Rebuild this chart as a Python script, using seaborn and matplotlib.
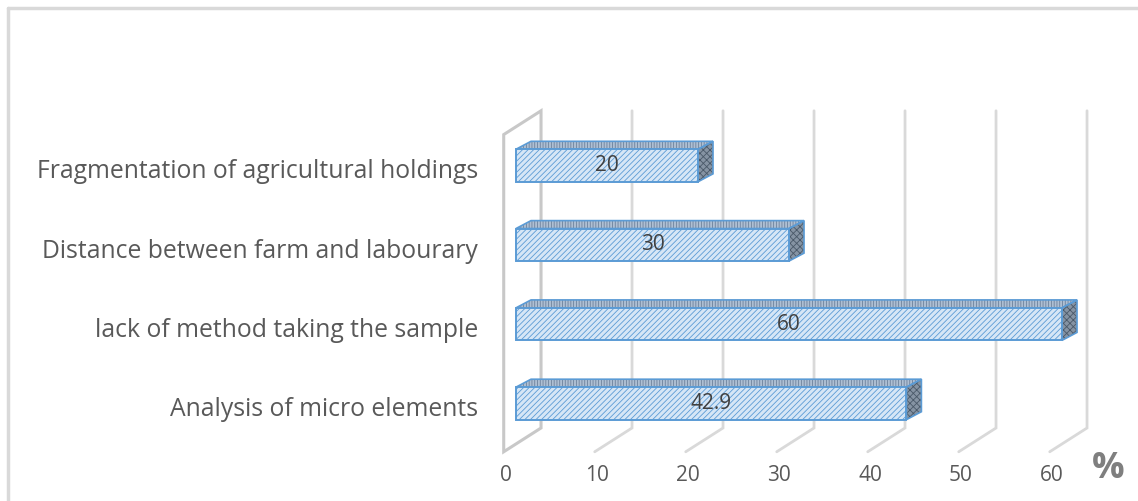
import numpy as np
import pandas as pd
import matplotlib
matplotlib.use("Agg")
import matplotlib.pyplot as plt
from matplotlib.patches import Polygon
from matplotlib.lines import Line2D
import seaborn as sns

# Data
categories = [
    "Fragmentation of agricultural holdings",
    "Distance between farm and labourary",
    "lack of method taking the sample",
    "Analysis of micro elements",
]
values = [20, 30, 60, 42.9]
value_labels = ["20", "30", "60", "42.9"]
x_ticks = [0, 10, 20, 30, 40, 50, 60]
unit_label = "%"

sns.set_theme(style="white")
plt.rcParams["font.family"] = ["Open Sans", "DejaVu Sans"]
plt.rcParams["hatch.linewidth"] = 0.6

W, H = 1138, 501
fig = plt.figure(figsize=(W / 100, H / 100), dpi=100)
ax = fig.add_axes([0, 0, 1, 1])

# Pseudo-3D geometry (in data units: x = value, y = category index)
BAR_H = 0.41              # height of bar front face
BAR_DEPTH = (1.65, -0.10)  # front face -> back face of a bar
BACK = (2.75, -0.20)       # bar front plane -> back wall plane
FRONT = (-1.35, 0.10)      # bar front plane -> front edge of the floor
GRID_TOP = -0.69
FLOOR_BACK = 3.31

FACE = "#d6e6f6"
EDGE = "#5b9bd5"
GRID = "#d9d9d9"

df = pd.DataFrame({"category": categories, "value": values})
sns.barplot(
    data=df, x="value", y="category", orient="h", order=categories,
    width=BAR_H, color=FACE, saturation=1, edgecolor=EDGE, linewidth=1.4,
    hatch="//////", ax=ax, zorder=3,
)

# Scales: value 0 of the bar front at 516 px, 9.1 px per unit; 79.3 px per category
ax.set_xlim(-516 / 9.1, (W - 516) / 9.1)
ax.set_ylim((H - 165.5) / 79.3, -165.5 / 79.3)
ax.axis("off")

fdx = FRONT[0] - BACK[0]
fdy = FRONT[1] - BACK[1]

# Side wall at value 0
wx = x_ticks[0] + BACK[0]
wall = Polygon(
    [(wx, GRID_TOP), (wx, FLOOR_BACK), (wx + fdx, FLOOR_BACK + fdy), (wx + fdx, GRID_TOP + fdy)],
    closed=True, facecolor="white", edgecolor="#c8c8c8", linewidth=2.2, zorder=1,
)
ax.add_patch(wall)

# Gridlines on the back wall, folding onto the floor
for t in x_ticks[1:]:
    xb = t + BACK[0]
    ax.plot([xb, xb, xb + fdx], [GRID_TOP, FLOOR_BACK, FLOOR_BACK + fdy],
            color=GRID, linewidth=2.0, zorder=1.5, solid_joinstyle="miter")

# Top and side faces of each bar
dx, dy = BAR_DEPTH
for i, v in enumerate(values):
    yt = i - BAR_H / 2
    yb = i + BAR_H / 2
    top = [(0, yt), (v, yt), (v + dx, yt + dy), (dx, yt + dy)]
    side = [(v, yt), (v + dx, yt + dy), (v + dx, yb + dy), (v, yb)]
    ax.add_patch(Polygon(top, closed=True, facecolor="#aebfd3", edgecolor="none", zorder=2))
    ax.add_patch(Polygon(top, closed=True, facecolor="none", edgecolor="#6d819b",
                         linewidth=0, hatch="||||||", zorder=2.1))
    ax.add_patch(Polygon(top, closed=True, facecolor="none", edgecolor=EDGE, linewidth=1.2, zorder=2.2))
    ax.add_patch(Polygon(side, closed=True, facecolor="#8593a3", edgecolor="none", zorder=2))
    ax.add_patch(Polygon(side, closed=True, facecolor="none", edgecolor="#4a5969",
                         linewidth=0, hatch="xxxxx", zorder=2.1))
    ax.add_patch(Polygon(side, closed=True, facecolor="none", edgecolor=EDGE, linewidth=1.2, zorder=2.2))
    ax.text(v / 2, i, value_labels[i], ha="center", va="center",
            fontsize=15, color="#404040", zorder=5)
    ax.text(-4.18, i + 0.08, categories[i], ha="right", va="center",
            fontsize=17.8, color="#595959")

# Value axis labels along the front edge of the floor
y_lab = (475 - 165.5) / 79.3
for t in x_ticks:
    ax.text(t + FRONT[0] + 0.25, y_lab, str(t), ha="center", va="center",
            fontsize=15, color="#595959")
ax.text(x_ticks[-1] + FRONT[0] + 6.4, y_lab - 0.08, unit_label, ha="center", va="center",
        fontsize=26, color="#7f7f7f", fontweight="bold")

# Chart area frame
fig.add_artist(Line2D([8 / W, 8 / W], [0, 1 - 8 / H], transform=fig.transFigure,
                      color="#d9d9d9", linewidth=2.5))
fig.add_artist(Line2D([8 / W, 1], [1 - 8 / H, 1 - 8 / H], transform=fig.transFigure,
                      color="#d9d9d9", linewidth=2.5))

fig.savefig("out.png", dpi=100)
